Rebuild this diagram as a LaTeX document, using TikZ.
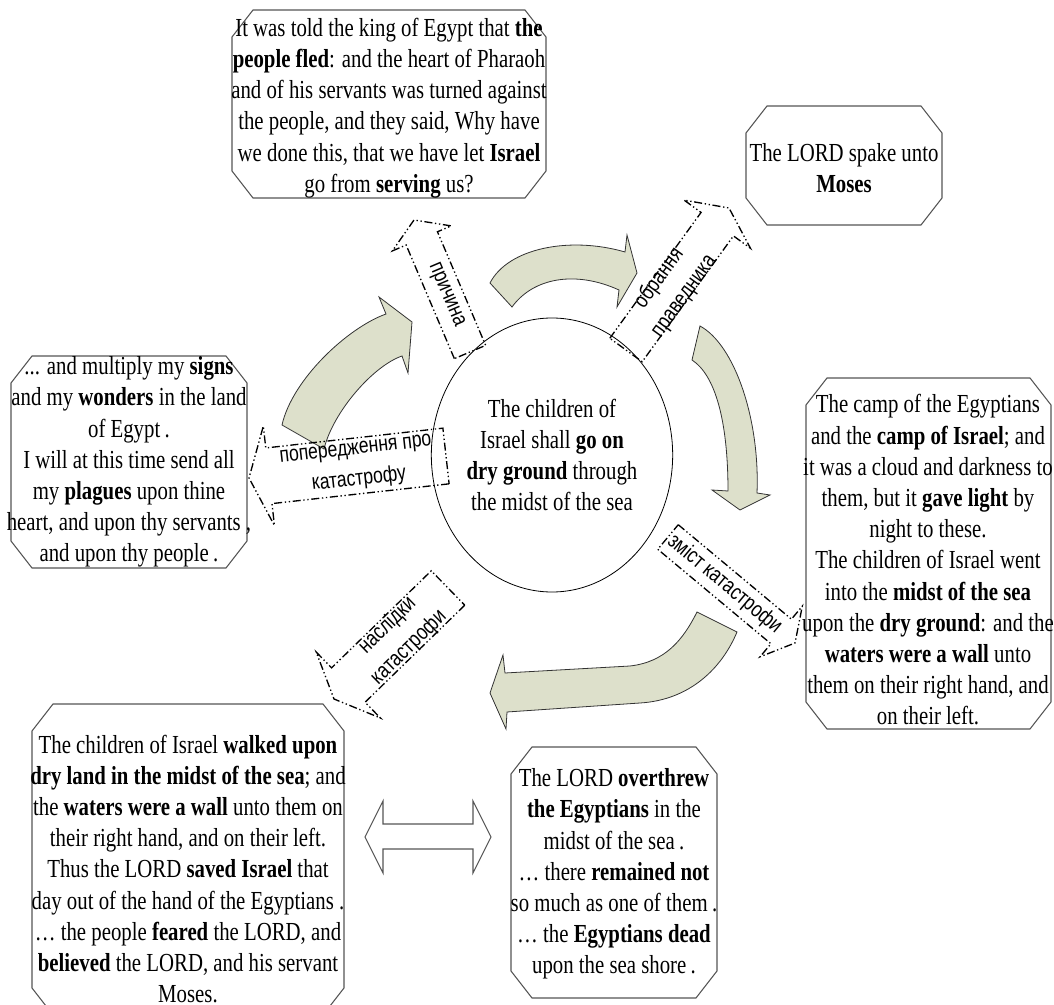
\documentclass[tikz,border=0pt]{standalone}
\usepackage{fontspec}
\setmainfont[FakeStretch=0.8]{Liberation Serif}
\newfontfamily\lblfont[FakeStretch=0.8]{Liberation Sans}
\usetikzlibrary{calc,shapes.geometric}
\definecolor{sage}{RGB}{221,224,203}
\definecolor{boxgray}{RGB}{85,85,85}
\tikzset{
  boxline/.style={draw=boxgray, line width=0.8pt},
  txt/.style={inner sep=0pt, align=center, font=\fontsize{19.5}{23.4}\selectfont},
  lbl/.style={inner sep=0pt, align=center, font=\lblfont\fontsize{16.5}{23}\selectfont},
  greenarrow/.style={fill=sage, draw=black!80, line width=0.6pt, line join=miter},
  calloutline/.style={draw=black, line width=1pt, dash pattern=on 6pt off 2pt on 1pt off 2pt on 1pt off 2pt},
}
\newcommand\octbox[4]{%
  \draw[boxline] ({#1+21},#2) -- ({#3-21},#2) -- (#3,{#2+27}) -- (#3,{#4-27}) -- ({#3-21},#4) -- ({#1+21},#4) -- (#1,{#4-27}) -- (#1,{#2+27}) -- cycle;}
% #1 name, #2 tail centre, #3 tip, #4 half body width, #5 half head width, #6 head length, #7 text, #8 extra rotation
\newcommand\calloutarrow[8]{%
  \coordinate (#1T) at #2;
  \coordinate (#1P) at #3;
  \coordinate (#1B) at ($(#1P)!#6!(#1T)$);
  \draw[calloutline] ($(#1T)!#4!90:(#1P)$) -- ($(#1B)!#4!90:(#1P)$) -- ($(#1B)!#5!90:(#1P)$) -- (#1P) -- ($(#1B)!#5!-90:(#1P)$) -- ($(#1B)!#4!-90:(#1P)$) -- ($(#1T)!#4!-90:(#1P)$) -- cycle;
  \path let \p1=($(#1P)-(#1T)$), \n1={atan2(\y1,\x1)+#8} in node[lbl, rotate=\n1] (#1) at ($(#1T)!0.5!(#1B)$) {#7};
}
\begin{document}
\begin{tikzpicture}[x=0.75pt,y=-0.75pt]
\useasboundingbox (0,0) rectangle (1054,1005);

% text boxes
\octbox{232}{10}{546}{198}
\octbox{746}{106}{942}{225}
\octbox{11}{356}{247}{568}
\octbox{806}{378}{1051}{729}
\octbox{32}{704}{344}{1015}
\octbox{511}{747}{717}{998}

\node[txt] (told) at (389,108) {It was told the king of Egypt that \textbf{the}\\
\textbf{people fled}: and the heart of Pharaoh\\
and of his servants was turned against\\
the people, and they said, Why have\\
we done this, that we have let \textbf{Israel}\\
go from \textbf{serving} us?};

\node[txt] (spake) at (844,168) {The LORD spake unto\\ \textbf{Moses}};

\node[txt] (signs) at (129,462) {... and multiply my \textbf{signs}\\
and my \textbf{wonders} in the land\\
of Egypt\,.\\
I will at this time send all\\
my \textbf{plagues} upon thine\\
heart, and upon thy servants ,\\
and upon thy people\,.};

\node[txt] (camp) at (928,560) {The camp of the Egyptians\\
and the \textbf{camp of Israel}; and\\
it was a cloud and darkness to\\
them, but it \textbf{gave light} by\\
night to these.\\
The children of Israel went\\
into the \textbf{midst of the sea}\\
upon the \textbf{dry ground}: and the\\
\textbf{waters were a wall} unto\\
them on their right hand, and\\
on their left.};

\node[txt] (walked) at (188,869) {The children of Israel \textbf{walked upon}\\
\textbf{dry land in the midst of the sea}; and\\
the \textbf{waters were a wall} unto them on\\
their right hand, and on their left.\\
Thus the LORD \textbf{saved Israel} that\\
day out of the hand of the Egyptians .\\
… the people \textbf{feared} the LORD, and\\
\textbf{believed} the LORD, and his servant\\
Moses.};

\node[txt] (overthrew) at (614,874) {The LORD \textbf{overthrew}\\
\textbf{the Egyptians} in the\\
midst of the sea\,.\\
… there \textbf{remained not}\\
so much as one of them\,.\\
… the \textbf{Egyptians dead}\\
upon the sea shore\,.};

\node[txt, draw=black, line width=0.6pt, ellipse, minimum width=162pt, minimum height=205.5pt] (dry) at (552,455) {The children of\\
Israel shall \textbf{go on}\\
\textbf{dry ground} through\\
the midst of the sea};

% green curved arrows
\draw[greenarrow] (282,425) .. controls (292,380) and (347,328) .. (386,314) -- (379,297) -- (412,322) -- (408,373) -- (402,356) .. controls (373,366) and (333,412) .. (324,449) -- cycle;
\draw[greenarrow] (490,283) .. controls (508,248) and (570,236) .. (625,252) -- (627,235) -- (637,273) -- (617,307) -- (619,290) .. controls (575,270) and (533,278) .. (512,307) -- cycle;
\draw[greenarrow] (700,326) .. controls (735,345) and (760,420) .. (757,493) -- (770,495) -- (740,510) -- (712,490) -- (728,491) .. controls (728,420) and (715,375) .. (692,360) -- cycle;
\draw[greenarrow] (630,666) .. controls (665,662) and (683,640) .. (697,612) -- (737,632) .. controls (722,668) and (690,700) .. (640,703) -- (507,712) -- (506,729) -- (490,693) -- (503,655) -- (505,673) -- cycle;

% double arrow
\draw[boxline, fill=white] (365,837) -- (383,801) -- (383,824) -- (473,824) -- (473,801) -- (491,837) -- (473,873) -- (473,849) -- (383,849) -- (383,873) -- cycle;

% dashed callout arrows
\calloutarrow{cause}{(470,352)}{(414,220)}{12.75pt}{24pt}{15pt}{причина}{180}
\calloutarrow{choice}{(626,350)}{(729,208)}{15pt}{30.75pt}{15pt}{обрання\\праведника}{0}
\calloutarrow{warn}{(446,456)}{(249,478)}{21pt}{37.5pt}{15pt}{попередження про\\катастрофу}{180}
\calloutarrow{content}{(668,537)}{(795,643)}{12pt}{24.75pt}{13.5pt}{зміст катастрофи}{0}
\calloutarrow{result}{(448,588)}{(334,699)}{18pt}{34.5pt}{15pt}{наслідки\\катастрофи}{180}
\end{tikzpicture}
\end{document}
